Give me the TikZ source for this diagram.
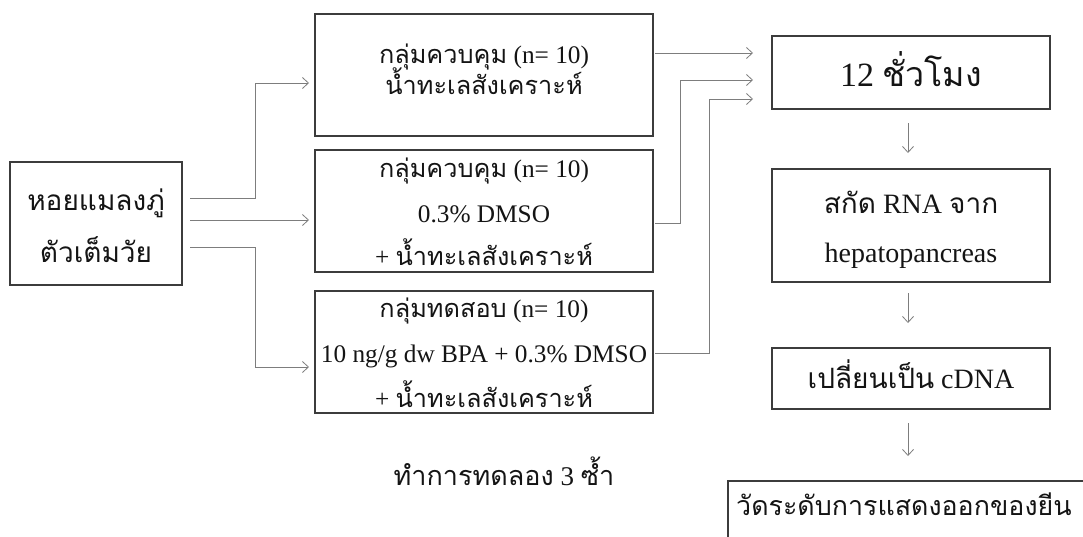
\documentclass[tikz,border=0pt]{standalone}
\usepackage{fontspec}
\setmainfont{Liberation Serif}
\newfontfamily\thai[Script=Thai]{Loma}
\usetikzlibrary{arrows.meta}
\definecolor{boxgray}{RGB}{60,60,60}
\definecolor{linegray}{RGB}{125,125,125}
\definecolor{textcol}{RGB}{20,20,20}
\newcommand\myfs[1]{\fontsize{#1}{#1}\selectfont}
\begin{document}
\begin{tikzpicture}[x=1pt,y=-1pt,
 box/.style={draw=boxgray,line width=1.3pt,inner sep=0pt,outer sep=0pt},
 conn/.style={draw=linegray,line width=0.8pt},
 arr/.style={conn,-{Straight Barb[length=6pt,width=11pt,line width=0.8pt]}},
 txt/.style={inner sep=0pt,anchor=base,text=textcol,font=\myfs{25.3}},
]
\useasboundingbox (0,0) rectangle (1083,536);
\clip (0,0) rectangle (1083,536);
% boxes
\node[box,minimum width=172pt,minimum height=123pt] (left) at (96,223.5) {};
\node[box,minimum width=338pt,minimum height=122pt] (b1) at (484,75) {};
\node[box,minimum width=338pt,minimum height=122pt] (b2) at (484,211) {};
\node[box,minimum width=338pt,minimum height=122pt] (b3) at (484,352) {};
\node[box,minimum width=278pt,minimum height=73pt] (r1) at (911,72.5) {};
\node[box,minimum width=278pt,minimum height=113pt] (r2) at (911,225.5) {};
\node[box,minimum width=278pt,minimum height=61pt] (r3) at (911,378.5) {};
\node[box,minimum width=372pt,minimum height=69pt] (r4) at (914,515.5) {};
% texts
\node[txt,font=\myfs{28}] (tl1) at (96,210) {\thai หอยแมลงภู่};
\node[txt,font=\myfs{28}] (tl2) at (96,262) {\thai ตัวเต็มวัย};
\node[txt] (t11) at (484,63) {{\thai กลุ่มควบคุม} (n= 10)};
\node[txt] (t12) at (484,94) {\thai น้ำทะเลสังเคราะห์};
\node[txt] (t21) at (484,177) {{\thai กลุ่มควบคุม} (n= 10)};
\node[txt] (t22) at (484,222) {0.3\% DMSO};
\node[txt] (t23) at (484,265) {+ {\thai น้ำทะเลสังเคราะห์}};
\node[txt] (t31) at (484,317) {{\thai กลุ่มทดสอบ} (n= 10)};
\node[txt] (t32) at (484,362) {10 ng/g dw BPA + 0.3\% DMSO};
\node[txt] (t33) at (484,407) {+ {\thai น้ำทะเลสังเคราะห์}};
\node[txt,font=\myfs{34}] (tr1) at (911,86) {12 {\thai ชั่วโมง}};
\node[txt,font=\myfs{28}] (tr21) at (911,213) {{\thai สกัด} RNA {\thai จาก}};
\node[txt,font=\myfs{28}] (tr22) at (911,262) {hepatopancreas};
\node[txt,font=\myfs{28}] (tr3) at (911,388) {{\thai เปลี่ยนเป็น} cDNA};
\node[txt,font=\myfs{26.8},anchor=base west] (tr4) at (736,515) {\thai วัดระดับการแสดงออกของยีน};
\node[txt,font=\myfs{27}] (trep) at (504,485) {{\thai ทำการทดลอง} 3 {\thai ซ้ำ}};
% connectors left
\coordinate (s1) at (190,198);
\coordinate (s2) at (190,220);
\coordinate (s3) at (190,247);
\draw[arr] (s1) -- ++(65,0) |- ([xshift=-6pt,yshift=-8pt]b1.west);
\draw[arr] (s2) -- ([xshift=-6pt,yshift=-9pt]b2.west);
\draw[arr] (s3) -- ++(65,0) |- ([xshift=-6pt,yshift=-15pt]b3.west);
% connectors right
\draw[arr] ([xshift=2pt,yshift=22pt]b1.east) -- ([xshift=-19pt,yshift=19.5pt]r1.west);
\draw[arr] ([xshift=2pt,yshift=-12pt]b2.east) -- ++(25,0) |- ([xshift=-19pt,yshift=-7.5pt]r1.west);
\draw[arr] ([xshift=2pt,yshift=-1pt]b3.east) -- ++(54,0) |- ([xshift=-19pt,yshift=-26.5pt]r1.west);
% down arrows
\draw[arr] ([xshift=-3pt,yshift=-14pt]r1.south) -- ([xshift=-3pt,yshift=16pt]r2.north);
\draw[arr] ([xshift=-3pt,yshift=-11pt]r2.south) -- ([xshift=-3pt,yshift=25pt]r3.north);
\draw[arr] ([xshift=-3pt,yshift=-14pt]r3.south) -- ++(0,33);
\end{tikzpicture}
\end{document}
